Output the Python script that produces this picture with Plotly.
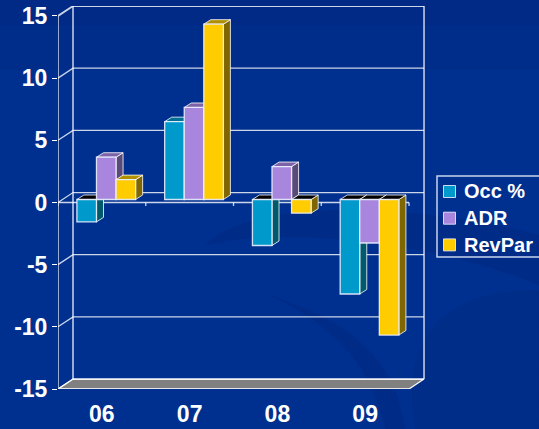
import plotly.graph_objects as go

categories = ["06", "07", "08", "09"]
occ = [-1.8, 6.26, -3.7, -7.6]
adr = [3.4, 7.4, 2.65, -3.5]
revpar = [1.6, 14.1, -1.1, -10.9]
y_ticks = [15, 10, 5, 0, -5, -10, -15]
y_labels = ["15", "10", "5", "0", "-5", "-10", "-15"]

series = [
    ("Occ %", occ, "#0099cc", "#006f94", "#005a6b"),
    ("ADR", adr, "#a986dd", "#7c62a8", "#5a4a7a"),
    ("RevPar", revpar, "#ffcc00", "#b08f00", "#806600"),
]

FG = "#ffffff"
GRID = "rgba(255,255,255,0.8)"
W, H = 539, 429
L, R, T, B = 58, 425, 6, 389
XMIN, XMAX = -0.5, 3.682
YMIN, YMAX = -15, 15.8
WX, WY = 0.171, 0.8        # wall depth
BW = 0.223                 # bar width
GX = 0.05                  # group shift
BASE = 0.24                # bar front plane height
DX, DY = 0.08, 0.36        # bar depth
n = len(categories)


def px(x):
    return (x - L) / (R - L)


def py(y):
    return 1 - (y - T) / (B - T)


fig = go.Figure()


def line(xs, ys, color=GRID, width=1.3, z=1):
    fig.add_trace(go.Scatter(x=xs, y=ys, mode="lines", showlegend=False, hoverinfo="skip",
                             line=dict(color=color, width=width), zorder=z))


# floor
fig.add_trace(go.Scatter(
    x=[XMIN, XMIN + n, XMIN + n + WX, XMIN + WX, XMIN],
    y=[-15, -15, -15 + WY, -15 + WY, -15],
    mode="lines", fill="toself", fillcolor="#808080", showlegend=False, hoverinfo="skip",
    line=dict(color=FG, width=1.2), zorder=1))

# walls and gridlines
for t in y_ticks:
    line([XMIN, XMIN + WX, XMIN + n + WX], [t, t + WY, t + WY], width=1.8 if t == 15 else 1.3)
line([XMIN + WX, XMIN + WX], [-15 + WY, 15 + WY], width=1.5)
line([XMIN + n + WX, XMIN + n + WX], [-15 + WY, 15 + WY], width=1.5)
line([XMIN, XMIN], [-15.4, 15], width=1.5)

# axes with tick marks at category boundaries
for level, tick in ((0, 0.28), (-15, 0.4)):
    xs, ys = [XMIN, XMIN + n], [level, level]
    line(xs, ys, width=1.6)
    for i in range(n + 1):
        line([XMIN + i, XMIN + i], [level, level - tick], width=1.3)

# bars: sides and tops behind their own front face
for k, (name, vals, front, top, side) in enumerate(series):
    left = GX - 1.5 * BW + k * BW
    sx, sy, tx, ty, bx, by = [], [], [], [], [], []
    for i, v in enumerate(vals):
        x0 = i + left
        x1 = x0 + BW
        h = BASE + v
        hi = max(BASE, h)
        lo = min(BASE, h)
        sx += [x1, x1 + DX, x1 + DX, x1, x1, None]
        sy += [lo, lo + DY, hi + DY, hi, lo, None]
        px_ = [x0, x0 + DX, x1 + DX, x1, x0, None]
        py_ = [hi, hi + DY, hi + DY, hi, hi, None]
        if v < 0:
            bx += px_
            by += py_
        else:
            tx += px_
            ty += py_
    z = 2 + 3 * k
    for xs, ys, col in ((sx, sy, side), (tx, ty, top), (bx, by, "#000000")):
        if xs:
            fig.add_trace(go.Scatter(
                x=xs, y=ys, mode="lines", fill="toself", fillcolor=col, showlegend=False,
                hoverinfo="skip", line=dict(color=GRID, width=1), zorder=z))
    fig.add_trace(go.Bar(
        x=list(range(n)), y=vals, base=BASE, width=BW, offset=left, name=name, showlegend=False,
        marker=dict(color=front, line=dict(color="rgba(235,240,255,0.9)", width=1.3)),
        zorder=z + 1))

# background decoration
shapes = []
for y0, y1, col in ((0, 25, "#002a86"), (25, 70, "#002c8a"), (70, 429, "#00308f")):
    shapes.append(dict(type="rect", xref="paper", yref="paper", x0=px(0), x1=px(W),
                       y0=py(y1), y1=py(y0), fillcolor=col, line_width=0, layer="below"))


def path(points):
    out = "M %.4f %.4f" % (px(points[0][0]), py(points[0][1]))
    for c in points[1:]:
        out += " C " + " ".join("%.4f %.4f" % (px(c[j]), py(c[j + 1])) for j in (0, 2, 4))
    return out + " Z"


swoosh_dark = path([(205, 245),
                    (250, 200, 400, 200, 539, 235),
                    (539, 260, 539, 270, 539, 285),
                    (440, 245, 300, 225, 205, 245)])
swoosh_low = path([(415, 429),
                   (400, 340, 440, 290, 539, 290),
                   (539, 340, 539, 400, 539, 429),
                   (500, 429, 450, 429, 415, 429)])
swoosh_arc = path([(270, 295),
                   (340, 320, 395, 350, 405, 429),
                   (395, 429, 390, 429, 385, 429),
                   (370, 360, 330, 325, 270, 295)])
for p, col in ((swoosh_dark, "#002c88"), (swoosh_low, "#002d88"), (swoosh_arc, "#002c88")):
    shapes.append(dict(type="path", xref="paper", yref="paper", path=p, fillcolor=col,
                       line_width=0, layer="below"))

# legend box, swatches and labels
shapes.append(dict(type="rect", xref="paper", yref="paper", x0=px(437), x1=px(541),
                   y0=py(257), y1=py(176), line=dict(color="rgba(235,240,255,0.85)", width=1.5),
                   fillcolor="rgba(0,0,0,0)", layer="above"))
annotations = []
for k, (name, vals, front, top, side) in enumerate(series):
    cy = 191.5 + k * 26.7
    shapes.append(dict(type="rect", xref="paper", yref="paper", x0=px(443.5), x1=px(455.5),
                       y0=py(cy + 6), y1=py(cy - 6), fillcolor=front,
                       line=dict(color="rgba(235,240,255,0.85)", width=1), layer="above"))
    annotations.append(dict(xref="paper", yref="paper", x=px(462.5), y=py(cy), text=name,
                            showarrow=False, xanchor="left", yanchor="middle", xshift=0,
                            font=dict(size=20, color=FG, weight="bold")))

fig.update_layout(
    width=W, height=H, autosize=False,
    margin=dict(l=L, r=W - R, t=T, b=H - B),
    paper_bgcolor="#00308f", plot_bgcolor="rgba(0,0,0,0)",
    barmode="overlay", shapes=shapes, annotations=annotations, showlegend=False,
    font=dict(family="Liberation Sans, Arial, sans-serif", color=FG),
    xaxis=dict(range=[XMIN, XMAX], tickmode="array", tickvals=list(range(n)), ticktext=categories,
               showgrid=False, zeroline=False, showline=False, ticks="", ticklen=0, automargin=False,
               ticklabelstandoff=9, tickfont=dict(size=23, color=FG, weight="bold")),
    yaxis=dict(range=[YMIN, YMAX], tickmode="array", tickvals=y_ticks, ticktext=y_labels,
               showgrid=False, zeroline=False, showline=False, automargin=False,
               ticks="outside", ticklen=5, tickwidth=1.3, tickcolor=FG,
               tickfont=dict(size=23, color=FG, weight="bold")),
)

fig.write_html("out.html", config={"displayModeBar": False},
               post_script="document.body.style.margin='0';document.body.style.overflow='hidden';")
